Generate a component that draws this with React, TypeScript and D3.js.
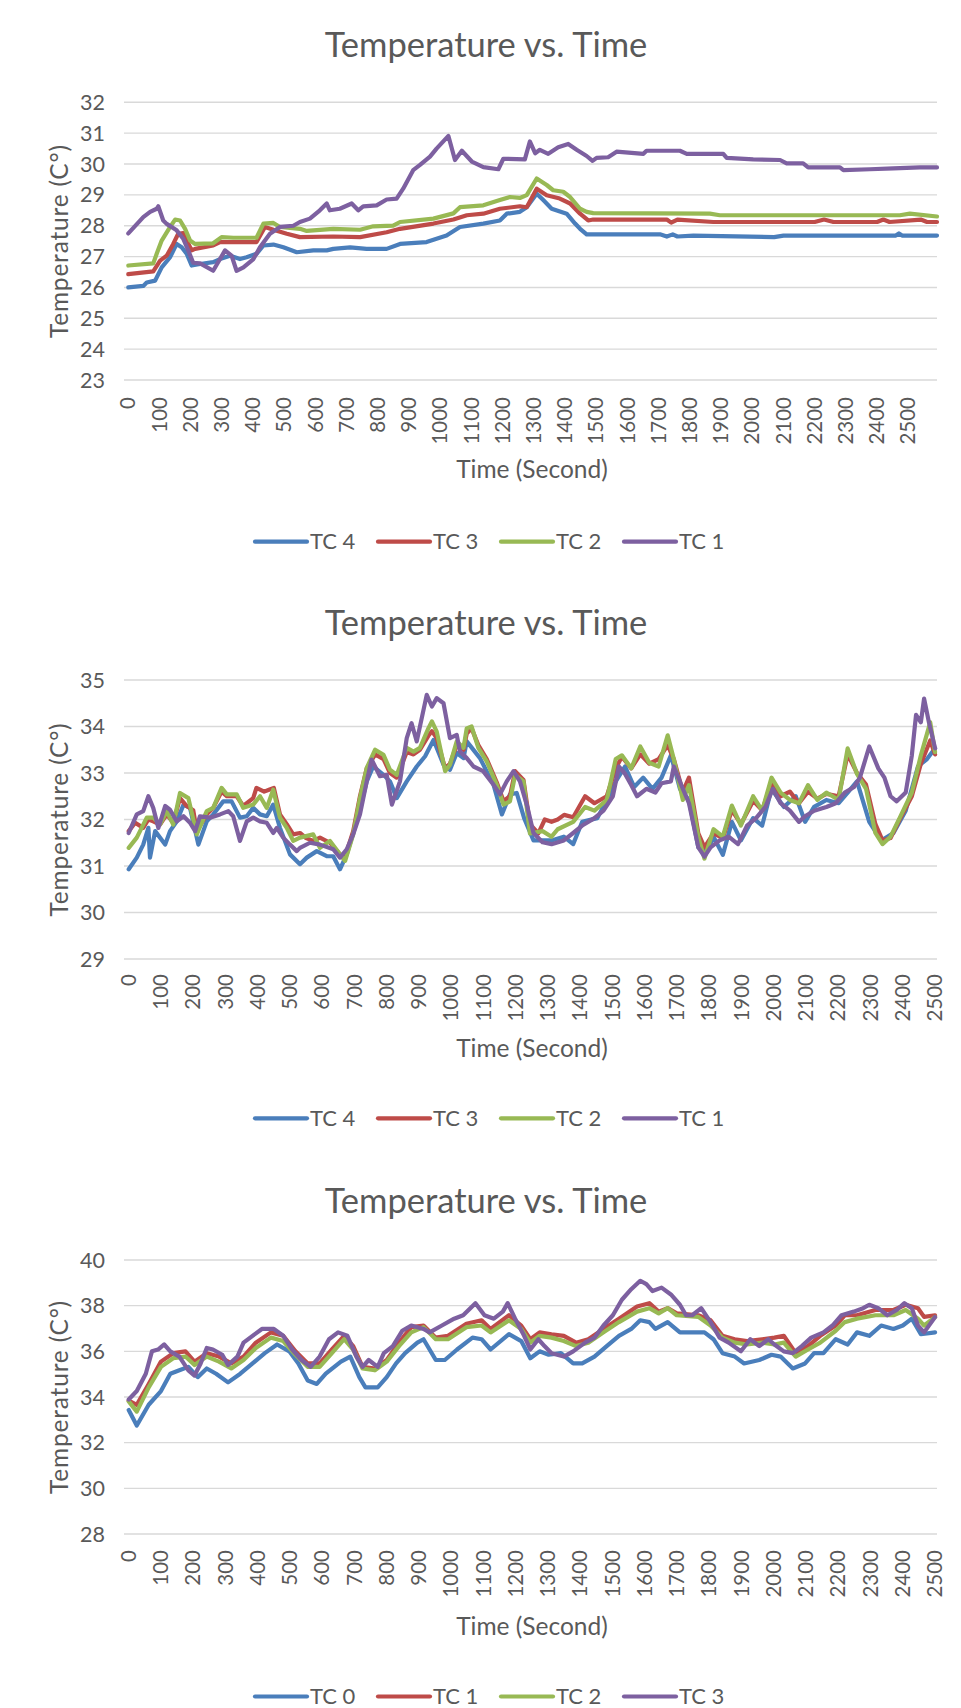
import React from 'react';
import * as d3 from 'd3';

type Pt = [number, number];

// ---- Tick labels ----
const timeTicks = [0, 100, 200, 300, 400, 500, 600, 700, 800, 900, 1000, 1100, 1200, 1300, 1400, 1500, 1600, 1700, 1800, 1900, 2000, 2100, 2200, 2300, 2400, 2500];
const tempTicks1 = [23, 24, 25, 26, 27, 28, 29, 30, 31, 32];
const tempTicks2 = [29, 30, 31, 32, 33, 34, 35];
const tempTicks3 = [28, 30, 32, 34, 36, 38, 40];

const legendNames1 = ['TC 4', 'TC 3', 'TC 2', 'TC 1'];
const legendNames2 = ['TC 4', 'TC 3', 'TC 2', 'TC 1'];
const legendNames3 = ['TC 0', 'TC 1', 'TC 2', 'TC 3'];

// ---- Run 1: [time (s), temperature (°C)] ----
const run1TC4: Pt[] = [[0,26.0],[48,26.05],[59,26.16],[86,26.22],[107,26.65],[134,26.98],[155,27.41],[171,27.3],[187,27.09],[203,26.71],[230,26.76],[272,26.82],[294,26.92],[326,27.03],[358,26.92],[379,26.98],[411,27.09],[433,27.36],[465,27.39],[497,27.3],[540,27.14],[593,27.2],[636,27.2],[657,27.25],[711,27.3],[764,27.25],[828,27.25],[871,27.41],[956,27.47],[1020,27.68],[1063,27.96],[1138,28.07],[1191,28.17],[1213,28.39],[1255,28.45],[1277,28.6],[1309,29.04],[1330,28.83],[1357,28.55],[1405,28.39],[1432,28.07],[1448,27.9],[1469,27.72],[1704,27.72],[1726,27.65],[1745,27.72],[1760,27.65],[1811,27.68],[2070,27.63],[2100,27.68],[2460,27.68],[2470,27.75],[2480,27.68],[2592,27.68]];
const run1TC3: Pt[] = [[0,26.43],[80,26.52],[102,26.87],[123,27.03],[144,27.41],[160,27.74],[176,27.76],[203,27.2],[214,27.25],[272,27.36],[294,27.47],[411,27.47],[438,27.96],[465,27.87],[508,27.74],[550,27.63],[657,27.65],[743,27.63],[828,27.79],[871,27.9],[978,28.07],[1042,28.2],[1085,28.34],[1138,28.39],[1191,28.55],[1255,28.63],[1277,28.6],[1309,29.2],[1341,28.99],[1383,28.88],[1416,28.72],[1448,28.39],[1474,28.17],[1490,28.2],[1726,28.2],[1740,28.1],[1760,28.2],[1875,28.12],[2200,28.12],[2230,28.2],[2260,28.12],[2400,28.12],[2420,28.2],[2440,28.12],[2540,28.2],[2560,28.12],[2592,28.12]];
const run1TC2: Pt[] = [[0,26.71],[80,26.78],[91,27.09],[107,27.52],[134,27.96],[150,28.2],[166,28.17],[182,27.9],[198,27.52],[214,27.41],[272,27.43],[299,27.63],[337,27.61],[411,27.61],[433,28.07],[465,28.09],[486,27.96],[550,27.9],[572,27.83],[657,27.9],[743,27.87],[785,27.98],[849,28.0],[871,28.12],[978,28.23],[1042,28.4],[1063,28.6],[1138,28.66],[1191,28.83],[1223,28.93],[1255,28.9],[1277,28.99],[1309,29.53],[1341,29.32],[1362,29.15],[1394,29.1],[1416,28.93],[1448,28.55],[1469,28.45],[1490,28.41],[1864,28.39],[1896,28.34],[2281,28.34],[2473,28.34],[2505,28.39],[2592,28.3]];
const run1TC1: Pt[] = [[0,27.75],[48,28.28],[70,28.45],[91,28.55],[96,28.63],[112,28.17],[123,28.06],[155,27.85],[176,27.58],[192,27.2],[208,26.8],[230,26.78],[272,26.54],[310,27.2],[331,27.03],[347,26.54],[369,26.65],[401,26.92],[422,27.3],[454,27.74],[486,27.96],[529,28.0],[550,28.12],[582,28.23],[614,28.5],[636,28.72],[646,28.5],[678,28.55],[716,28.72],[737,28.5],[753,28.63],[796,28.66],[828,28.85],[860,28.88],[881,29.2],[913,29.8],[935,29.97],[967,30.24],[988,30.5],[1026,30.91],[1047,30.13],[1069,30.43],[1101,30.08],[1138,29.9],[1186,29.83],[1202,30.17],[1271,30.15],[1287,30.73],[1304,30.35],[1319,30.46],[1346,30.33],[1378,30.54],[1410,30.65],[1437,30.46],[1469,30.26],[1488,30.1],[1501,30.2],[1538,30.22],[1565,30.4],[1651,30.33],[1661,30.43],[1768,30.43],[1790,30.33],[1907,30.33],[1918,30.2],[2003,30.15],[2089,30.13],[2110,30.02],[2163,30.02],[2179,29.89],[2281,29.89],[2292,29.8],[2377,29.83],[2452,29.86],[2537,29.89],[2592,29.89]];

// ---- Run 2 ----
const run2TC4: Pt[] = [[0,30.93],[25,31.18],[45,31.46],[61,31.82],[66,31.18],[82,31.75],[113,31.46],[128,31.75],[149,31.96],[170,32.32],[190,32.25],[216,31.46],[242,31.96],[262,32.11],[293,32.39],[319,32.39],[345,32.04],[366,32.07],[386,32.25],[407,32.11],[428,32.07],[448,32.32],[469,31.82],[500,31.25],[531,31.04],[552,31.18],[583,31.32],[614,31.21],[634,31.21],[655,30.93],[676,31.25],[707,31.96],[738,32.82],[758,33.14],[790,32.96],[810,32.82],[831,32.46],[862,32.82],[893,33.14],[919,33.36],[945,33.71],[976,33.18],[996,33.07],[1017,33.43],[1038,33.32],[1048,33.68],[1089,33.32],[1131,32.75],[1157,32.11],[1182,32.54],[1203,32.57],[1226,32.03],[1255,31.55],[1311,31.55],[1349,31.63],[1378,31.47],[1406,31.95],[1453,32.03],[1482,32.42],[1510,32.82],[1539,33.14],[1567,32.7],[1595,32.9],[1624,32.66],[1652,32.9],[1681,33.38],[1709,32.66],[1737,32.42],[1766,31.4],[1794,31.32],[1813,31.63],[1842,31.24],[1870,31.95],[1898,31.55],[1936,32.03],[1964,31.87],[1993,32.66],[2031,32.27],[2068,32.5],[2097,31.95],[2125,32.27],[2163,32.42],[2201,32.35],[2229,32.58],[2258,32.82],[2296,31.95],[2333,31.55],[2371,31.71],[2409,32.19],[2447,33.14],[2475,33.3],[2500,33.53]];
const run2TC3: Pt[] = [[0,31.75],[20,31.93],[45,31.82],[61,32.0],[76,31.96],[97,31.89],[118,32.11],[138,31.93],[159,32.46],[180,32.29],[200,32.2],[211,31.75],[242,32.11],[262,32.25],[288,32.6],[304,32.5],[335,32.5],[355,32.29],[386,32.46],[396,32.68],[420,32.6],[435,32.64],[450,32.68],[469,32.11],[490,31.9],[510,31.68],[531,31.71],[550,31.6],[572,31.54],[593,31.61],[624,31.5],[655,31.25],[671,31.2],[696,31.75],[717,32.5],[738,33.1],[764,33.4],[790,33.3],[810,33.0],[831,32.9],[862,33.45],[883,33.4],[903,33.5],[929,33.8],[940,33.9],[955,33.75],[981,33.1],[996,33.2],[1017,33.6],[1038,33.5],[1048,33.85],[1063,33.96],[1084,33.6],[1110,33.3],[1141,32.8],[1162,32.4],[1182,32.5],[1198,33.04],[1224,32.85],[1244,31.9],[1270,31.7],[1290,32.0],[1311,31.95],[1330,32.0],[1350,32.1],[1378,32.05],[1415,32.5],[1444,32.35],[1482,32.5],[1510,33.1],[1529,33.35],[1558,33.1],[1586,33.4],[1614,33.2],[1643,33.3],[1671,33.6],[1690,33.3],[1718,32.6],[1737,32.9],[1766,31.7],[1785,31.4],[1813,31.7],[1842,31.6],[1870,32.2],[1898,31.9],[1936,32.4],[1964,32.2],[1993,32.8],[2021,32.5],[2050,32.6],[2078,32.35],[2106,32.6],[2135,32.45],[2163,32.55],[2201,32.5],[2229,33.4],[2258,33.0],[2286,32.75],[2315,31.9],[2337,31.55],[2362,31.6],[2390,32.0],[2428,32.5],[2456,33.2],[2485,33.7],[2500,33.4]];
const run2TC2: Pt[] = [[0,31.39],[25,31.61],[56,32.04],[76,32.04],[97,31.89],[118,32.18],[138,31.89],[159,32.57],[185,32.46],[211,31.68],[242,32.18],[262,32.25],[288,32.68],[304,32.54],[335,32.54],[355,32.25],[386,32.32],[407,32.5],[428,32.25],[448,32.64],[469,32.04],[490,31.82],[510,31.54],[531,31.61],[572,31.68],[593,31.39],[624,31.54],[655,31.25],[671,31.11],[696,31.68],[717,32.46],[738,33.11],[764,33.5],[790,33.39],[810,33.07],[831,32.96],[862,33.54],[883,33.46],[903,33.54],[929,33.96],[940,34.11],[955,33.89],[981,33.04],[996,33.18],[1017,33.68],[1038,33.54],[1048,33.96],[1063,34.0],[1084,33.54],[1110,33.25],[1141,32.75],[1162,32.32],[1182,32.39],[1198,32.96],[1224,32.82],[1244,31.7],[1283,31.75],[1311,31.63],[1330,31.79],[1378,31.95],[1415,32.27],[1444,32.19],[1482,32.42],[1510,33.3],[1529,33.38],[1558,33.1],[1586,33.57],[1614,33.22],[1643,33.14],[1671,33.81],[1690,33.3],[1718,32.42],[1737,32.74],[1766,31.63],[1785,31.16],[1813,31.79],[1842,31.63],[1870,32.3],[1898,31.87],[1936,32.5],[1964,32.19],[1993,32.9],[2021,32.58],[2050,32.42],[2078,32.35],[2106,32.74],[2135,32.42],[2163,32.58],[2201,32.42],[2229,33.53],[2258,32.98],[2286,32.66],[2315,31.71],[2337,31.47],[2362,31.63],[2390,32.03],[2428,32.58],[2456,33.38],[2485,34.09],[2500,33.45]];
const run2TC1: Pt[] = [[0,31.71],[25,32.11],[45,32.18],[61,32.5],[76,32.25],[92,31.82],[113,32.29],[128,32.21],[149,31.96],[170,32.07],[190,31.93],[206,31.75],[221,32.07],[252,32.04],[283,32.11],[309,32.18],[324,32.07],[345,31.54],[366,31.96],[386,32.04],[407,31.96],[428,31.93],[448,31.71],[459,31.82],[479,31.61],[500,31.46],[521,31.32],[531,31.39],[562,31.5],[593,31.46],[634,31.36],[655,31.18],[676,31.36],[696,31.68],[717,32.11],[738,32.82],[753,33.29],[779,32.93],[800,32.96],[816,32.32],[841,32.82],[862,33.75],[877,34.07],[893,33.68],[924,34.68],[940,34.43],[955,34.61],[976,34.5],[996,33.75],[1017,33.82],[1027,33.46],[1048,33.32],[1069,33.14],[1099,33.04],[1131,32.75],[1151,32.54],[1172,32.82],[1193,33.04],[1213,32.82],[1236,32.27],[1255,31.71],[1283,31.51],[1311,31.47],[1349,31.55],[1378,31.71],[1406,31.87],[1444,32.03],[1472,32.19],[1501,32.5],[1520,33.14],[1539,32.98],[1558,32.74],[1576,32.5],[1605,32.66],[1633,32.58],[1652,32.78],[1681,32.82],[1690,33.14],[1718,32.66],[1737,32.35],[1766,31.4],[1785,31.2],[1804,31.4],[1832,31.55],[1860,31.63],[1889,31.47],[1917,31.87],[1945,32.03],[1974,32.27],[1997,32.66],[2021,32.35],[2050,32.19],[2078,31.95],[2097,32.07],[2125,32.19],[2163,32.27],[2192,32.35],[2220,32.58],[2249,32.7],[2267,32.9],[2296,33.57],[2324,33.1],[2343,32.9],[2362,32.5],[2381,32.39],[2409,32.58],[2428,33.38],[2441,34.25],[2456,34.09],[2466,34.6],[2481,34.09],[2500,33.53]];

// ---- Run 3 ----
const run3TC0: Pt[] = [[0,33.43],[25,32.75],[62,33.66],[100,34.26],[129,35.02],[157,35.17],[185,35.32],[214,34.87],[242,35.25],[271,35.02],[308,34.64],[346,35.02],[384,35.47],[422,35.92],[460,36.3],[498,36.0],[526,35.47],[555,34.72],[583,34.57],[611,35.02],[658,35.55],[687,35.77],[715,34.87],[734,34.42],[772,34.42],[800,34.87],[829,35.47],[857,35.92],[895,36.38],[914,36.53],[952,35.62],[980,35.62],[1018,36.08],[1066,36.6],[1094,36.53],[1122,36.08],[1179,36.75],[1217,36.45],[1245,35.7],[1274,36.0],[1302,35.85],[1340,35.92],[1378,35.47],[1406,35.47],[1444,35.77],[1482,36.23],[1520,36.68],[1558,36.98],[1586,37.36],[1614,37.28],[1633,36.98],[1671,37.28],[1709,36.83],[1785,36.83],[1813,36.53],[1841,35.92],[1879,35.77],[1908,35.47],[1955,35.62],[1993,35.85],[2021,35.77],[2059,35.25],[2097,35.47],[2125,35.92],[2154,35.92],[2192,36.53],[2229,36.3],[2258,36.83],[2296,36.68],[2333,37.13],[2371,36.98],[2400,37.13],[2428,37.43],[2456,36.75],[2500,36.83]];
const run3TC1: Pt[] = [[0,33.84],[25,33.66],[62,34.57],[100,35.55],[138,35.92],[176,36.0],[204,35.55],[242,35.92],[280,35.77],[318,35.47],[356,35.77],[394,36.38],[441,36.83],[479,36.68],[517,36.0],[555,35.47],[592,35.47],[630,36.08],[668,36.68],[696,36.23],[725,35.32],[763,35.25],[800,35.62],[838,36.38],[876,37.06],[914,37.13],[952,36.6],[990,36.68],[1047,37.21],[1094,37.36],[1122,36.98],[1179,37.58],[1217,37.13],[1245,36.53],[1274,36.83],[1311,36.75],[1349,36.68],[1387,36.38],[1425,36.53],[1472,36.98],[1520,37.43],[1576,37.96],[1614,38.11],[1643,37.74],[1671,37.89],[1699,37.66],[1766,37.58],[1804,37.36],[1841,36.68],[1879,36.53],[1917,36.45],[1964,36.53],[2002,36.6],[2031,36.68],[2068,35.92],[2106,36.23],[2144,36.68],[2192,37.13],[2220,37.58],[2258,37.58],[2315,37.81],[2371,37.81],[2409,38.04],[2447,37.89],[2466,37.51],[2500,37.58]];
const run3TC2: Pt[] = [[0,33.81],[25,33.36],[62,34.42],[100,35.32],[138,35.7],[176,35.77],[204,35.4],[242,35.77],[280,35.55],[318,35.25],[356,35.62],[394,36.15],[441,36.6],[479,36.45],[517,35.85],[555,35.32],[592,35.32],[630,35.92],[668,36.53],[696,36.08],[725,35.25],[763,35.17],[800,35.55],[838,36.23],[876,36.83],[914,37.06],[952,36.53],[990,36.53],[1047,37.06],[1094,37.13],[1122,36.83],[1179,37.36],[1217,36.98],[1245,36.38],[1274,36.68],[1311,36.6],[1349,36.45],[1387,36.23],[1425,36.38],[1472,36.83],[1520,37.28],[1576,37.74],[1614,37.89],[1643,37.66],[1671,37.89],[1699,37.58],[1766,37.51],[1804,37.13],[1841,36.6],[1879,36.38],[1917,36.3],[1964,36.38],[2002,36.3],[2031,36.38],[2068,35.77],[2106,36.08],[2144,36.38],[2192,36.9],[2220,37.28],[2258,37.43],[2315,37.58],[2371,37.58],[2409,37.81],[2447,37.43],[2466,37.13],[2500,37.5]];
const run3TC3: Pt[] = [[0,33.89],[25,34.26],[53,35.02],[72,36.0],[91,36.08],[110,36.3],[129,36.0],[157,35.77],[185,35.17],[204,34.94],[223,35.47],[242,36.15],[261,36.08],[290,35.85],[308,35.4],[337,35.77],[356,36.38],[384,36.68],[413,36.98],[450,36.98],[479,36.68],[507,36.08],[536,35.62],[564,35.32],[592,35.77],[621,36.53],[649,36.83],[678,36.68],[706,35.77],[725,35.32],[744,35.62],[772,35.32],[791,35.92],[819,36.23],[848,36.9],[876,37.13],[914,36.98],[933,36.83],[971,37.13],[1009,37.43],[1037,37.58],[1075,38.11],[1103,37.58],[1132,37.43],[1160,37.74],[1175,38.11],[1198,37.43],[1226,36.68],[1245,36.08],[1270,36.53],[1289,36.23],[1311,35.92],[1349,35.77],[1378,36.0],[1415,36.38],[1444,36.6],[1472,37.13],[1501,37.58],[1529,38.26],[1558,38.72],[1586,39.09],[1605,38.94],[1624,38.64],[1652,38.79],[1681,38.49],[1709,38.04],[1728,37.58],[1747,37.58],[1775,37.89],[1804,37.28],[1832,36.6],[1860,36.38],[1898,36.0],[1927,36.53],[1955,36.23],[1983,36.53],[2002,36.3],[2031,36.0],[2059,35.92],[2087,36.23],[2116,36.6],[2154,36.83],[2182,37.13],[2210,37.58],[2248,37.74],[2277,37.89],[2296,38.04],[2324,37.89],[2352,37.58],[2381,37.81],[2405,38.11],[2428,37.89],[2447,37.13],[2466,36.83],[2500,37.5]];

// ---- Styling ----
const SERIES_COLORS = ['#4A7EBB', '#BE4B48', '#98B954', '#7D60A0'];
const TEXT_COLOR = '#595959';
const GRID_COLOR = '#D9D9D9';
const FONT = 'Lato, "Open Sans", sans-serif';

interface ChartLayout {
  titleY: number;
  plotTop: number;
  plotBottom: number;
  labelTop: number;
  axisTitleY: number;
  legendY: number;
  xDomain: [number, number];
}

const PLOT_LEFT = 124;
const PLOT_RIGHT = 937;

interface ChartProps {
  layout: ChartLayout;
  yTicks: number[];
  series: Pt[][];
  names: string[];
}

function TempChart({ layout, yTicks, series, names }: ChartProps) {
  const x = d3.scaleLinear().domain(layout.xDomain).range([PLOT_LEFT, PLOT_RIGHT]);
  const y = d3
    .scaleLinear()
    .domain([d3.min(yTicks) as number, d3.max(yTicks) as number])
    .range([layout.plotBottom, layout.plotTop]);
  const line = d3
    .line<Pt>()
    .x((d) => x(d[0]))
    .y((d) => y(d[1]));
  const midY = (layout.plotTop + layout.plotBottom) / 2;
  const legendX0 = 255;
  const legendStep = 123;

  return (
    <g fontFamily={FONT} fill={TEXT_COLOR}>
      <text x={486} y={layout.titleY} textAnchor="middle" fontSize={34.5}>
        Temperature vs. Time
      </text>

      {yTicks.map((t) => (
        <g key={`g${t}`}>
          <line x1={PLOT_LEFT} x2={PLOT_RIGHT} y1={y(t)} y2={y(t)} stroke={GRID_COLOR} strokeWidth={1.4} />
          <text x={105} y={y(t)} dy="0.35em" textAnchor="end" fontSize={21.5}>
            {t}
          </text>
        </g>
      ))}

      <text
        transform={`translate(68,${midY}) rotate(-90)`}
        textAnchor="middle"
        fontSize={24.5}
        letterSpacing={0.8}
      >
        Temperature (C°)
      </text>

      {timeTicks.map((t) => (
        <text
          key={`x${t}`}
          transform={`translate(${x(t)},${layout.labelTop}) rotate(-90)`}
          textAnchor="end"
          dy="0.35em"
          fontSize={20.5}
        >
          {t}
        </text>
      ))}

      <text x={532} y={layout.axisTitleY} textAnchor="middle" fontSize={24.5}>
        Time (Second)
      </text>

      {series.map((s, i) => (
        <path
          key={`s${i}`}
          d={line(s) ?? ''}
          fill="none"
          stroke={SERIES_COLORS[i]}
          strokeWidth={4.2}
          strokeLinejoin="round"
          strokeLinecap="round"
        />
      ))}

      {names.map((n, i) => {
        const lx = legendX0 + i * legendStep;
        return (
          <g key={`l${i}`}>
            <line
              x1={lx}
              x2={lx + 52}
              y1={layout.legendY}
              y2={layout.legendY}
              stroke={SERIES_COLORS[i]}
              strokeWidth={4.2}
              strokeLinecap="round"
            />
            <text x={lx + 55} y={layout.legendY} dy="0.35em" fontSize={22}>
              {n}
            </text>
          </g>
        );
      })}
    </g>
  );
}

const layout1: ChartLayout = {
  titleY: 57,
  plotTop: 102.3,
  plotBottom: 380,
  labelTop: 397,
  axisTitleY: 478,
  legendY: 541.7,
  xDomain: [-13.8, 2592],
};
const layout2: ChartLayout = {
  titleY: 635,
  plotTop: 680,
  plotBottom: 959,
  labelTop: 974,
  axisTitleY: 1057,
  legendY: 1118.3,
  xDomain: [-14.6, 2506],
};
const layout3: ChartLayout = {
  titleY: 1213,
  plotTop: 1260,
  plotBottom: 1534,
  labelTop: 1550,
  axisTitleY: 1635,
  legendY: 1696.5,
  xDomain: [-14.6, 2506],
};

export default function App() {
  return (
    <svg
      width={961}
      height={1708}
      viewBox="0 0 961 1708"
      style={{ position: 'absolute', left: 0, top: 0, background: '#fff' }}
    >
      <rect x={0} y={0} width={961} height={1708} fill="#fff" />
      <TempChart layout={layout1} yTicks={tempTicks1} series={[run1TC4, run1TC3, run1TC2, run1TC1]} names={legendNames1} />
      <TempChart layout={layout2} yTicks={tempTicks2} series={[run2TC4, run2TC3, run2TC2, run2TC1]} names={legendNames2} />
      <TempChart layout={layout3} yTicks={tempTicks3} series={[run3TC0, run3TC1, run3TC2, run3TC3]} names={legendNames3} />
    </svg>
  );
}
